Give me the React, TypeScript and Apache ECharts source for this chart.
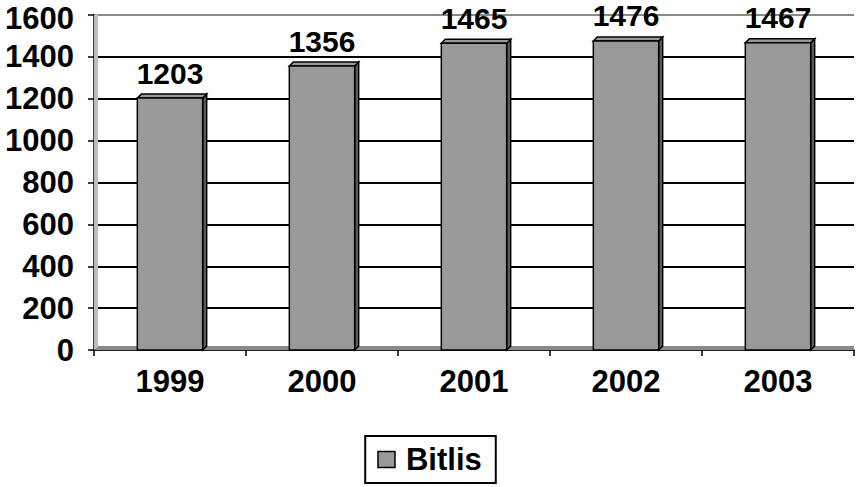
import React, { useEffect, useRef } from "react";
import * as echarts from "echarts";

const categories = ["1999", "2000", "2001", "2002", "2003"];
const values = [1203, 1356, 1465, 1476, 1467];
const seriesName = "Bitlis";
const yTicks = { min: 0, max: 1600, interval: 200 };

const FONT = "Liberation Sans, Arial, sans-serif";
const FS = 31;
const BAR = "#999999";
const SIDE = "#5c5c5c";
const D = 4;

export default function App() {
  const ref = useRef<HTMLDivElement>(null);
  useEffect(() => {
    if (!ref.current) return;
    const chart = echarts.init(ref.current, undefined, { renderer: "svg" });
    const option: any = {
      animation: false,
      backgroundColor: "#fff",
      grid: {
        left: 94,
        right: 5,
        top: 15,
        bottom: 137,
        containLabel: false,
        outerBoundsMode: "none",
      },
      legend: {
        bottom: 4,
        left: "center",
        data: [
          {
            name: seriesName,
            icon: "rect",
            itemStyle: { color: BAR, borderColor: "#000", borderWidth: 1.5 },
          },
        ],
        itemWidth: 17,
        itemHeight: 16,
        itemGap: 4,
        borderColor: "#000",
        borderWidth: 2,
        borderRadius: 0,
        padding: [8, 14, 8, 12],
        textStyle: {
          fontFamily: FONT,
          fontWeight: "bold",
          fontSize: FS,
          color: "#000",
          padding: [0, 0, 0, 6],
        },
      },
      xAxis: {
        type: "category",
        data: categories,
        boundaryGap: true,
        axisLine: { lineStyle: { color: "#000", width: 1.5 } },
        axisTick: { show: true, length: 6, inside: false, lineStyle: { color: "#000", width: 1.5 } },
        axisLabel: { fontFamily: FONT, fontWeight: "bold", fontSize: FS, color: "#000", margin: 16 },
        splitLine: { show: false },
      },
      yAxis: {
        type: "value",
        min: yTicks.min,
        max: yTicks.max,
        interval: yTicks.interval,
        axisLine: { show: true, lineStyle: { color: "#000", width: 1.5 } },
        axisTick: { show: true, length: 6, lineStyle: { color: "#000", width: 1.5 } },
        axisLabel: {
          fontFamily: FONT,
          fontWeight: "bold",
          fontSize: FS,
          lineHeight: 24,
          color: "#000",
          margin: 20,
          formatter: (v: number) => (v === yTicks.max ? `{t|${v}}` : String(v)),
          rich: {
            t: {
              fontFamily: FONT,
              fontWeight: "bold",
              fontSize: FS,
              lineHeight: 24,
              color: "#000",
              padding: [6, 0, 0, 0],
            },
          },
        },
        splitLine: {
          show: true,
          lineStyle: {
            color: ["#8a8a8a", "#000", "#000", "#000", "#000", "#000", "#000", "#000", "#8a8a8a"],
            width: 2,
          },
        },
      },
      series: [
        {
          name: seriesName,
          type: "custom",
          data: values.map((v, i) => [i, v]),
          encode: { x: 0, y: 1 },
          renderItem: (params: any, api: any) => {
            const xi = api.value(0);
            const v = api.value(1);
            const top = api.coord([xi, v]);
            const base = api.coord([xi, 0]);
            const bandW = api.size([1, 0])[0];
            const w = bandW * 0.43;
            const left = top[0] - w / 2;
            const right = left + w;
            return {
              type: "group",
              children: [
                {
                  type: "polygon",
                  shape: {
                    points: [
                      [right, top[1]],
                      [right + D, top[1] - D],
                      [right + D, base[1] - D],
                      [right, base[1]],
                    ],
                  },
                  style: { fill: SIDE, stroke: "#000", lineWidth: 1.5 },
                },
                {
                  type: "polygon",
                  shape: {
                    points: [
                      [left, top[1]],
                      [left + D, top[1] - D],
                      [right + D, top[1] - D],
                      [right, top[1]],
                    ],
                  },
                  style: { fill: BAR, stroke: "#000", lineWidth: 1.5 },
                },
                {
                  type: "rect",
                  shape: { x: left, y: top[1], width: w, height: base[1] - top[1] },
                  style: { fill: BAR, stroke: "#000", lineWidth: 1.5 },
                },
                {
                  type: "text",
                  x: top[0],
                  y: top[1] - D - 21,
                  style: {
                    text: String(v),
                    align: "center",
                    verticalAlign: "middle",
                    lineHeight: 24,
                    fontFamily: FONT,
                    fontWeight: "bold",
                    fontSize: 30,
                    fill: "#000",
                  },
                },
              ],
            };
          },
        },
      ],
    };
    chart.setOption(option);
    // decorative 3D floor and left wall
    const pTop = chart.convertToPixel({ yAxisIndex: 0 } as any, yTicks.max) as number;
    const y0 = chart.convertToPixel({ yAxisIndex: 0 } as any, 0) as number;
    const x0 = 94;
    const xR = 859 - 5;
    chart.setOption({
      graphic: [
        {
          type: "polygon",
          z: 1,
          shape: { points: [[x0, y0], [x0 + D, y0 - D], [xR, y0 - D], [xR, y0]] },
          style: { fill: "#8a8a8a" },
        },
        {
          type: "polygon",
          z: 1,
          shape: { points: [[x0, y0], [x0, pTop], [x0 + D, pTop - 1], [x0 + D, y0 - D]] },
          style: { fill: "#bdbdbd" },
        },
      ],
    });
    return () => chart.dispose();
  }, []);
  return (
    <div
      ref={ref}
      style={{ position: "fixed", left: 0, top: 0, width: 859, height: 487, background: "#fff" }}
    />
  );
}
